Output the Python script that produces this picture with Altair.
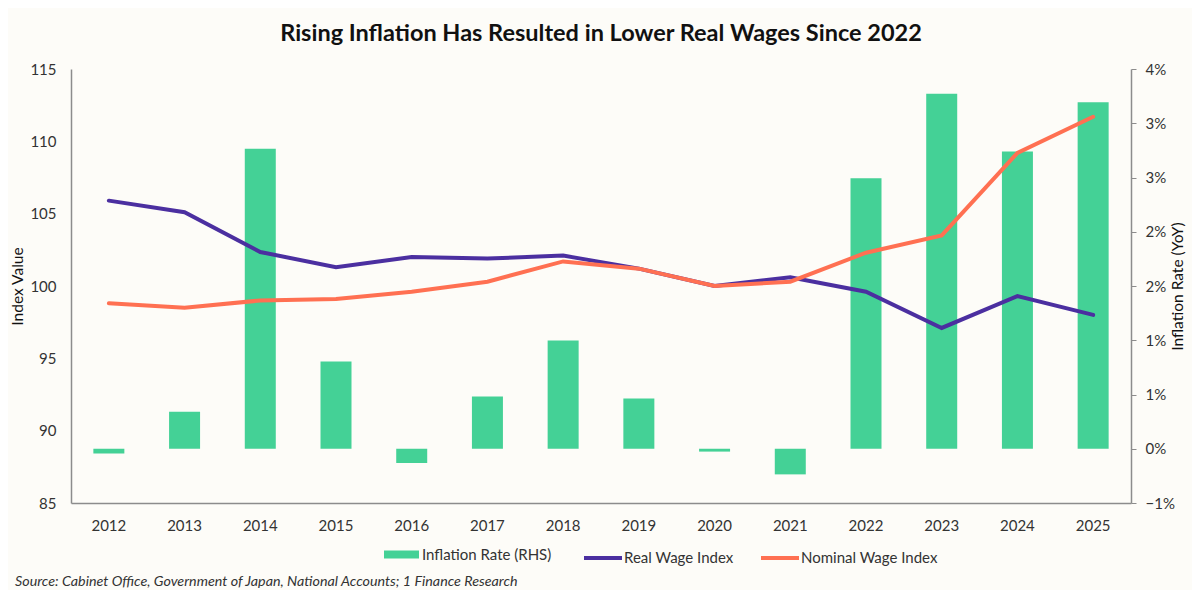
import pandas as pd
import altair as alt

FONT = "Lato"
GREEN = "#44d196"
PURPLE = "#4b2fa0"
ORANGE = "#ff7052"
AXIS_GREY = "#8c8c8c"
TEXT = "#333333"

years = [str(y) for y in range(2012, 2026)]
inflation_pct = [-0.05, 0.39, 3.16, 0.92, -0.15, 0.55, 1.14, 0.53, -0.03, -0.27, 2.85, 3.74, 3.13, 3.65]
real_wage = [105.9, 105.1, 102.35, 101.3, 102.0, 101.9, 102.1, 101.2, 100.0, 100.6, 99.6, 97.1, 99.3, 98.0]
nominal_wage = [98.8, 98.5, 99.0, 99.1, 99.6, 100.3, 101.7, 101.2, 100.0, 100.3, 102.3, 103.5, 109.2, 111.7]

title = "Rising Inflation Has Resulted in Lower Real Wages Since 2022"
source = "Source: Cabinet Office, Government of Japan, National Accounts; 1 Finance Research"

W, H = 1060, 434

bars_df = pd.DataFrame({
    "year": years,
    "inflation": [v / 100 for v in inflation_pct],
    "series": "Inflation Rate (RHS)",
})
lines_df = pd.concat([
    pd.DataFrame({"year": years, "value": real_wage, "series": "Real Wage Index"}),
    pd.DataFrame({"year": years, "value": nominal_wage, "series": "Nominal Wage Index"}),
])

# right axis in steps of 4/7 %, labels rounded like the original
rhs_ticks = [k * 4 / 7 / 100 for k in range(-1, 8)]

x_enc = alt.X("year:O", title=None, sort=years,
              scale=alt.Scale(paddingInner=0, paddingOuter=0),
              axis=alt.Axis(labelAngle=0, ticks=False, labelPadding=15))

bars = alt.Chart(bars_df).mark_bar(size=31).encode(
    x=x_enc,
    y=alt.Y("inflation:Q", title="Inflation Rate (YoY)",
            scale=alt.Scale(domain=[-4 / 700, 0.04], nice=False, zero=False),
            axis=alt.Axis(orient="right", values=rhs_ticks, format=".0%",
                          tickSize=5, tickColor=AXIS_GREY, labelPadding=9,
                          titleAngle=270, titlePadding=11)),
    color=alt.Color("series:N",
                    scale=alt.Scale(domain=["Inflation Rate (RHS)"], range=[GREEN]),
                    legend=alt.Legend(title=None, orient="none", legendX=313, legendY=468,
                                      symbolType="M-1,-0.229H1V0.229H-1Z",
                                      symbolSize=1225, symbolOpacity=1,
                                      symbolStrokeWidth=0, labelOffset=3)),
)

lines = alt.Chart(lines_df).mark_line(strokeWidth=4, strokeCap="round").encode(
    x=x_enc,
    y=alt.Y("value:Q", title="Index Value",
            scale=alt.Scale(domain=[85, 115], nice=False, zero=False),
            axis=alt.Axis(orient="left", values=list(range(85, 116, 5)),
                          ticks=False, labelPadding=15, titlePadding=4)),
    color=alt.Color("series:N", sort=["Real Wage Index", "Nominal Wage Index"],
                    scale=alt.Scale(domain=["Real Wage Index", "Nominal Wage Index"],
                                    range=[PURPLE, ORANGE]),
                    legend=alt.Legend(title=None, orient="none", legendX=511, legendY=468,
                                      direction="horizontal", symbolType="stroke",
                                      symbolSize=1444, symbolStrokeWidth=4,
                                      labelOffset=0, columnPadding=19)),
)

note = alt.Chart(pd.DataFrame({"t": [source]})).mark_text(
    align="left", baseline="middle", font=FONT, fontSize=14.3, fontStyle="italic", color=TEXT
).encode(text="t:N", x=alt.value(-56), y=alt.value(H + 79))

chart = alt.layer(bars, lines, note).resolve_scale(
    y="independent", color="independent"
).properties(
    width=W, height=H,
    autosize="none",
    padding={"left": 63, "top": 61, "right": 61, "bottom": 87},
    title=alt.TitleParams(title, font=FONT, fontSize=23.5, fontWeight="bold",
                          color="#111111", anchor="middle", offset=17),
).configure(
    background="#fdfcf8",
).configure_view(
    stroke=None,
).configure_axis(
    grid=False, domainColor=AXIS_GREY, domainWidth=1.5,
    labelFont=FONT, labelFontSize=15, labelColor=TEXT,
    titleFont=FONT, titleFontSize=15.5, titleFontWeight="normal", titleColor="#111111",
).configure_legend(
    labelFont=FONT, labelFontSize=15, labelColor=TEXT, padding=0,
)

chart.save("out.html", embed_options={"renderer": "svg", "actions": False})
